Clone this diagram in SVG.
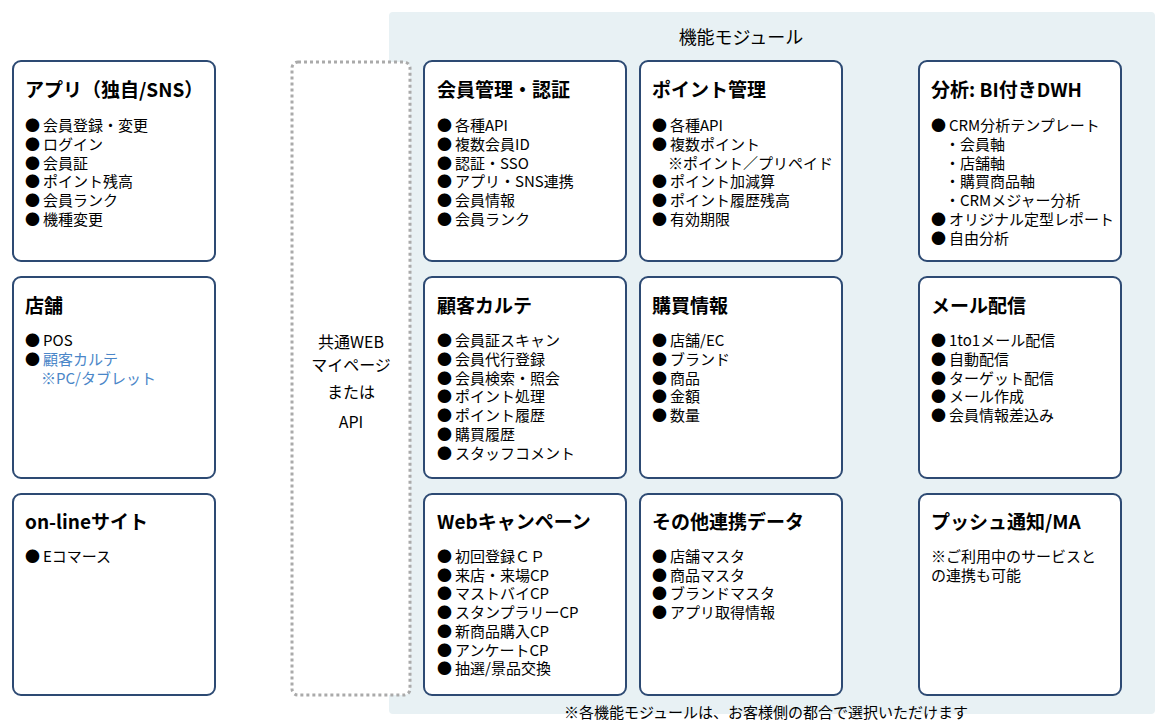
<svg xmlns="http://www.w3.org/2000/svg" width="1166" height="725" viewBox="0 0 1166 725">
<style>
text{font-family:"Noto Sans CJK JP","Noto Sans",sans-serif;fill:#000}
.box{fill:#fff;stroke:#2d4a73;stroke-width:2}
.t{font-size:19px;font-weight:bold}
.l{font-size:15px}
.b{fill:#4a86c8}
</style>
<rect x="389" y="12" width="766" height="702" rx="4" fill="#e8f1f4"/>
<text x="741" y="44" font-size="18" text-anchor="middle">機能モジュール</text>
<text x="766" y="718" font-size="15" text-anchor="middle">※各機能モジュールは、お客様側の都合で選択いただけます</text>
<g id="connectors"/>
<g id="web"><rect x="292" y="62" width="118" height="633" rx="6" fill="#fff" stroke="#aaa" stroke-width="3" stroke-dasharray="3 3"/>
<text x="351" y="348" font-size="16" text-anchor="middle">共通WEB</text>
<text x="351" y="371" font-size="16" text-anchor="middle">マイページ</text>
<text x="351" y="398" font-size="16" text-anchor="middle">または</text>
<text x="351" y="428" font-size="16" text-anchor="middle">API</text></g>
<g id="app"><rect class="box" x="13" y="61" width="202" height="200" rx="8"/>
<text class="t" x="25" y="97">アプリ（独自/SNS）</text>
<text class="l" x="25" y="131">●&#8201;会員登録・変更</text><text class="l" x="25" y="150">●&#8201;ログイン</text><text class="l" x="25" y="169">●&#8201;会員証</text><text class="l" x="25" y="187">●&#8201;ポイント残高</text><text class="l" x="25" y="206">●&#8201;会員ランク</text><text class="l" x="25" y="225">●&#8201;機種変更</text></g>
<g id="store"><rect class="box" x="13" y="277" width="202" height="201" rx="8"/>
<text class="t" x="25" y="313">店舗</text>
<text class="l" x="25" y="346">●&#8201;POS</text><text class="l" x="25" y="365">●&#8201;<tspan class="b">顧客カルテ</tspan></text><text class="l b" x="41" y="384">※PC/タブレット</text></g>
<g id="online"><rect class="box" x="13" y="494" width="202" height="201" rx="8"/>
<text class="t" x="25" y="529">on-lineサイト</text>
<text class="l" x="25" y="562">●&#8201;Eコマース</text></g>
<g id="member"><rect class="box" x="424" y="61" width="202" height="200" rx="8"/>
<text class="t" x="437" y="97">会員管理・認証</text>
<text class="l" x="437" y="131">●&#8201;各種API</text><text class="l" x="437" y="150">●&#8201;複数会員ID</text><text class="l" x="437" y="169">●&#8201;認証・SSO</text><text class="l" x="437" y="187">●&#8201;アプリ・SNS連携</text><text class="l" x="437" y="206">●&#8201;会員情報</text><text class="l" x="437" y="225">●&#8201;会員ランク</text></g>
<g id="point"><rect class="box" x="640" y="61" width="202" height="200" rx="8"/>
<text class="t" x="652" y="97">ポイント管理</text>
<text class="l" x="652" y="131">●&#8201;各種API</text><text class="l" x="652" y="150">●&#8201;複数ポイント</text><text class="l" x="668" y="169">※ポイント／プリペイド</text><text class="l" x="652" y="187">●&#8201;ポイント加減算</text><text class="l" x="652" y="206">●&#8201;ポイント履歴残高</text><text class="l" x="652" y="225">●&#8201;有効期限</text></g>
<g id="bi"><rect class="box" x="919" y="61" width="202" height="200" rx="8"/>
<text class="t" x="931" y="97">分析: BI付きDWH</text>
<text class="l" x="931" y="131">●&#8201;CRM分析テンプレート</text><text class="l" x="945" y="150">・会員軸</text><text class="l" x="945" y="169">・店舗軸</text><text class="l" x="945" y="187">・購買商品軸</text><text class="l" x="945" y="206">・CRMメジャー分析</text><text class="l" x="931" y="225">●&#8201;オリジナル定型レポート</text><text class="l" x="931" y="244">●&#8201;自由分析</text></g>
<g id="karte"><rect class="box" x="424" y="277" width="202" height="201" rx="8"/>
<text class="t" x="437" y="313">顧客カルテ</text>
<text class="l" x="437" y="346">●&#8201;会員証スキャン</text><text class="l" x="437" y="365">●&#8201;会員代行登録</text><text class="l" x="437" y="384">●&#8201;会員検索・照会</text><text class="l" x="437" y="402">●&#8201;ポイント処理</text><text class="l" x="437" y="421">●&#8201;ポイント履歴</text><text class="l" x="437" y="440">●&#8201;購買履歴</text><text class="l" x="437" y="459">●&#8201;スタッフコメント</text></g>
<g id="purchase"><rect class="box" x="640" y="277" width="202" height="201" rx="8"/>
<text class="t" x="652" y="313">購買情報</text>
<text class="l" x="652" y="346">●&#8201;店舗/EC</text><text class="l" x="652" y="365">●&#8201;ブランド</text><text class="l" x="652" y="384">●&#8201;商品</text><text class="l" x="652" y="402">●&#8201;金額</text><text class="l" x="652" y="421">●&#8201;数量</text></g>
<g id="mail"><rect class="box" x="919" y="277" width="202" height="201" rx="8"/>
<text class="t" x="931" y="313">メール配信</text>
<text class="l" x="931" y="346">●&#8201;1to1メール配信</text><text class="l" x="931" y="365">●&#8201;自動配信</text><text class="l" x="931" y="384">●&#8201;ターゲット配信</text><text class="l" x="931" y="402">●&#8201;メール作成</text><text class="l" x="931" y="421">●&#8201;会員情報差込み</text></g>
<g id="campaign"><rect class="box" x="424" y="494" width="202" height="201" rx="8"/>
<text class="t" x="437" y="529">Webキャンペーン</text>
<text class="l" x="437" y="562">●&#8201;初回登録ＣＰ</text><text class="l" x="437" y="581">●&#8201;来店・来場CP</text><text class="l" x="437" y="599">●&#8201;マストバイCP</text><text class="l" x="437" y="618">●&#8201;スタンプラリーCP</text><text class="l" x="437" y="637">●&#8201;新商品購入CP</text><text class="l" x="437" y="656">●&#8201;アンケートCP</text><text class="l" x="437" y="674">●&#8201;抽選/景品交換</text></g>
<g id="other"><rect class="box" x="640" y="494" width="202" height="201" rx="8"/>
<text class="t" x="652" y="529">その他連携データ</text>
<text class="l" x="652" y="562">●&#8201;店舗マスタ</text><text class="l" x="652" y="581">●&#8201;商品マスタ</text><text class="l" x="652" y="599">●&#8201;ブランドマスタ</text><text class="l" x="652" y="618">●&#8201;アプリ取得情報</text></g>
<g id="push"><rect class="box" x="919" y="494" width="202" height="201" rx="8"/>
<text class="t" x="931" y="529">プッシュ通知/MA</text>
<text class="l" x="931" y="562">※ご利用中のサービスと</text><text class="l" x="931" y="581">の連携も可能</text></g>
</svg>
